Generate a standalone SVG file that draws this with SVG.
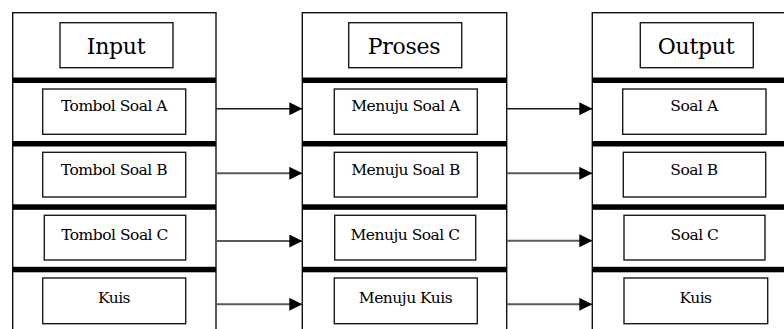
<svg xmlns="http://www.w3.org/2000/svg" width="784" height="329" viewBox="0 0 784 329">
  <style>
    .col { fill: #ffffff; stroke: #111111; stroke-width: 1.4; }
    .bar { fill: #000000; }
    .box { fill: #ffffff; stroke: #1a1a1a; stroke-width: 1.4; }
    .head { font-family: "DejaVu Serif", "Liberation Serif", serif; font-size: 22px; fill: #000000; text-anchor: middle; letter-spacing: -0.3px; }
    .lbl { font-family: "DejaVu Serif", "Liberation Serif", serif; font-size: 15.5px; fill: #000000; text-anchor: middle; letter-spacing: -0.5px; }
    .link { fill: none; stroke: #1a1a1a; stroke-width: 1.4; }
    .link.soft { stroke: #5a5a5a; stroke-width: 2; }
  </style>
  <defs>
    <marker id="arrow" markerUnits="userSpaceOnUse" markerWidth="14" markerHeight="14" refX="13" refY="6.5" orient="auto">
      <path d="M0,0 L13,6.5 L0,13 Z" fill="#000000"/>
    </marker>
  </defs>
  <rect width="784" height="329" fill="#ffffff"/>

  <!-- Input column -->
  <g id="input">
    <rect class="col" x="12.7" y="12.7" width="203.3" height="330"/>
    <rect class="bar" x="12.7" y="77.5" width="203.3" height="5.5"/>
    <rect class="bar" x="12.7" y="141" width="203.3" height="5.5"/>
    <rect class="bar" x="12.7" y="204.3" width="203.3" height="5.5"/>
    <rect class="bar" x="12.7" y="266.8" width="203.3" height="5.5"/>
    <rect class="box" x="60" y="22.7" width="113" height="45"/>
    <text class="head" x="116" y="54.3">Input</text>
    <g id="tombol-a">
      <rect class="box" x="42.7" y="89" width="143" height="45.3"/>
      <text class="lbl" x="114" y="111">Tombol Soal A</text>
    </g>
    <g id="tombol-b">
      <rect class="box" x="42.7" y="152.3" width="143" height="44.7"/>
      <text class="lbl" x="114" y="174.5">Tombol Soal B</text>
    </g>
    <g id="tombol-c">
      <rect class="box" x="44.3" y="215.3" width="141.4" height="44.7"/>
      <text class="lbl" x="114.5" y="240">Tombol Soal C</text>
    </g>
    <g id="kuis-in">
      <rect class="box" x="42.7" y="278" width="143" height="45.7"/>
      <text class="lbl" x="114" y="302.7">Kuis</text>
    </g>
  </g>

  <!-- Proses column -->
  <g id="proses">
    <rect class="col" x="302.3" y="12.7" width="204.4" height="330"/>
    <rect class="bar" x="302.3" y="77.5" width="204.4" height="5.5"/>
    <rect class="bar" x="302.3" y="141" width="204.4" height="5.5"/>
    <rect class="bar" x="302.3" y="204.3" width="204.4" height="5.5"/>
    <rect class="bar" x="302.3" y="266.8" width="204.4" height="5.5"/>
    <rect class="box" x="348.7" y="22.7" width="113" height="45"/>
    <text class="head" x="404" y="54.3">Proses</text>
    <g id="menuju-a">
      <rect class="box" x="334.3" y="89" width="143" height="45.3"/>
      <text class="lbl" x="405.5" y="111">Menuju Soal A</text>
    </g>
    <g id="menuju-b">
      <rect class="box" x="334.3" y="152.3" width="143" height="44.7"/>
      <text class="lbl" x="405.5" y="174.5">Menuju Soal B</text>
    </g>
    <g id="menuju-c">
      <rect class="box" x="334.7" y="215.3" width="141" height="44.7"/>
      <text class="lbl" x="405" y="240">Menuju Soal C</text>
    </g>
    <g id="menuju-kuis">
      <rect class="box" x="334.3" y="278" width="143" height="45.7"/>
      <text class="lbl" x="405.5" y="302.7">Menuju Kuis</text>
    </g>
  </g>

  <!-- Output column -->
  <g id="output">
    <rect class="col" x="592.3" y="12.7" width="210" height="330"/>
    <rect class="bar" x="592.3" y="77.5" width="192" height="5.5"/>
    <rect class="bar" x="592.3" y="141" width="192" height="5.5"/>
    <rect class="bar" x="592.3" y="204.3" width="192" height="5.5"/>
    <rect class="bar" x="592.3" y="266.8" width="192" height="5.5"/>
    <rect class="box" x="640.3" y="22.7" width="113" height="45"/>
    <text class="head" x="696" y="54.3">Output</text>
    <g id="soal-a">
      <rect class="box" x="622.7" y="89" width="143.3" height="45.3"/>
      <text class="lbl" x="694" y="111">Soal A</text>
    </g>
    <g id="soal-b">
      <rect class="box" x="623.3" y="152.3" width="142.4" height="44.7"/>
      <text class="lbl" x="694" y="174.5">Soal B</text>
    </g>
    <g id="soal-c">
      <rect class="box" x="624" y="215.3" width="141" height="44.7"/>
      <text class="lbl" x="694.5" y="240">Soal C</text>
    </g>
    <g id="kuis-out">
      <rect class="box" x="624" y="278" width="143.7" height="45.7"/>
      <text class="lbl" x="695.5" y="302.7">Kuis</text>
    </g>
  </g>

  <!-- Connectors -->
  <g id="connectors">
    <line class="link" x1="216" y1="108.7" x2="302.3" y2="108.7" marker-end="url(#arrow)"/>
    <line class="link soft" x1="216" y1="173.3" x2="302.3" y2="173.3" marker-end="url(#arrow)"/>
    <line class="link soft" x1="216" y1="241" x2="302.3" y2="241" marker-end="url(#arrow)"/>
    <line class="link soft" x1="216" y1="304.3" x2="302.3" y2="304.3" marker-end="url(#arrow)"/>
    <line class="link" x1="506.7" y1="108.7" x2="592.3" y2="108.7" marker-end="url(#arrow)"/>
    <line class="link soft" x1="506.7" y1="173.3" x2="592.3" y2="173.3" marker-end="url(#arrow)"/>
    <line class="link soft" x1="506.7" y1="240.7" x2="592.3" y2="240.7" marker-end="url(#arrow)"/>
    <line class="link soft" x1="506.7" y1="304.3" x2="592.3" y2="304.3" marker-end="url(#arrow)"/>
  </g>
</svg>
